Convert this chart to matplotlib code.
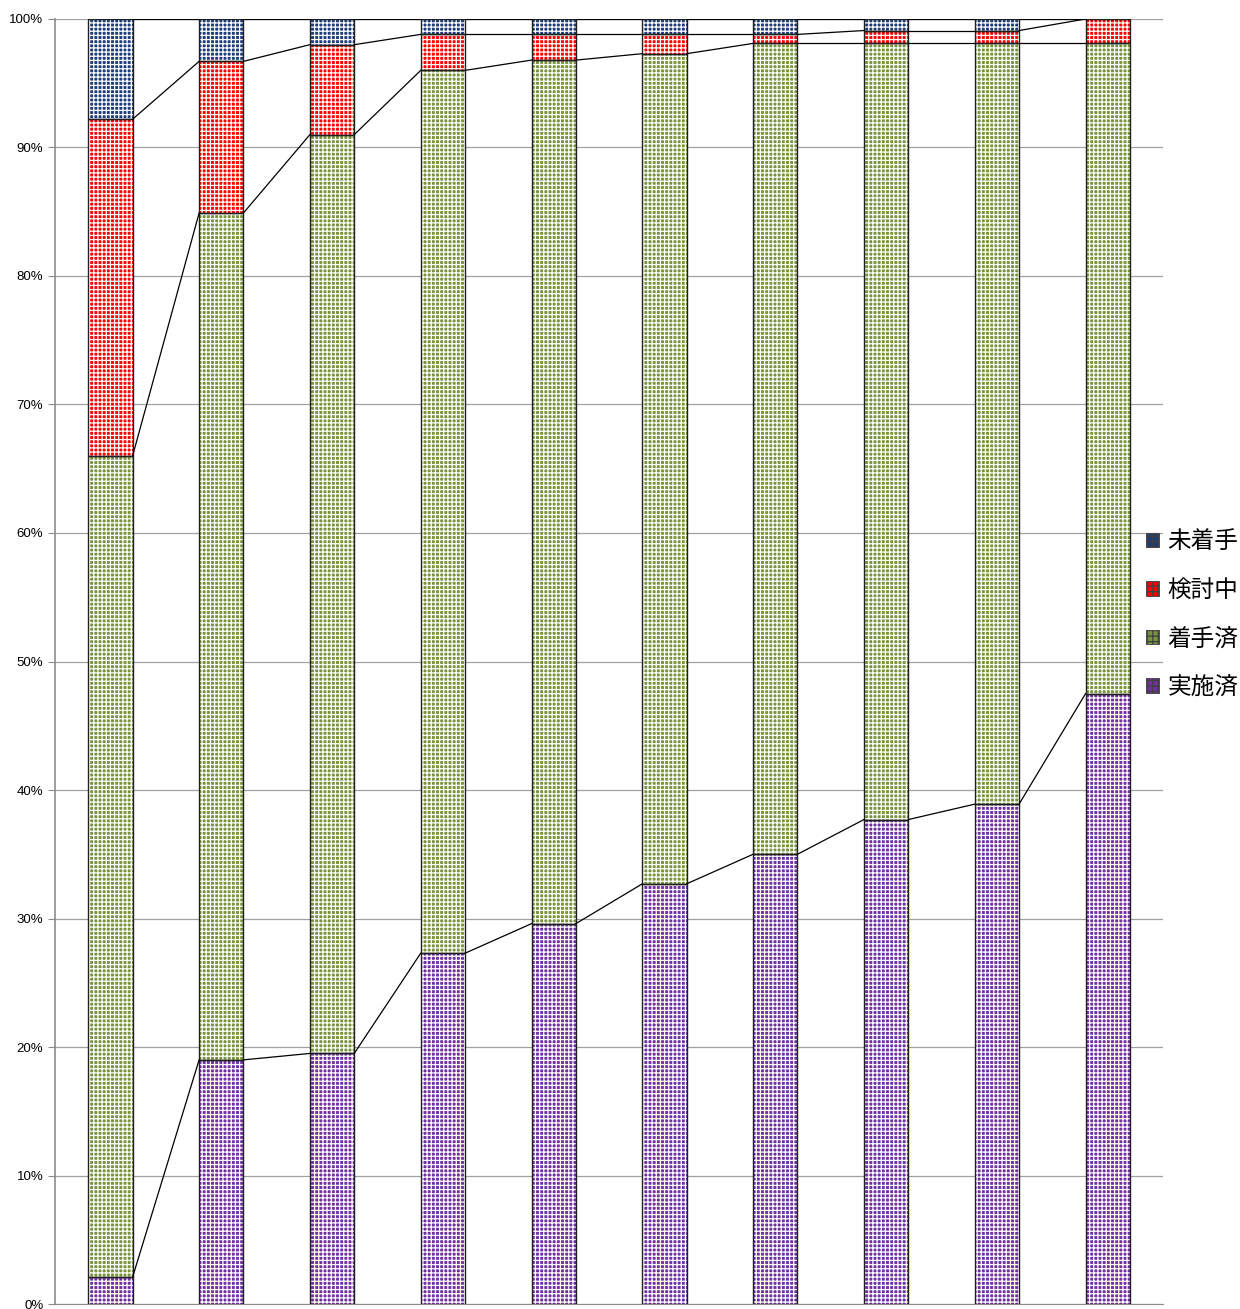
import matplotlib
matplotlib.use('Agg')
import matplotlib.pyplot as plt
import numpy as np
from matplotlib.patches import Patch
from matplotlib.ticker import PercentFormatter

plt.rcParams['font.family'] = ['Noto Sans CJK JP', 'DejaVu Sans']
plt.rcParams['hatch.linewidth'] = 0.9
plt.rcParams['hatch.color'] = 'white'

# データ（%）
series_names = ['実施済', '着手済', '検討中', '未着手']
jisshi = [2.1, 19.0, 19.5, 27.3, 29.6, 32.7, 35.0, 37.7, 38.9, 47.5]
chakushu = [63.9, 65.9, 71.5, 68.7, 67.2, 64.6, 63.1, 60.4, 59.2, 50.6]
kentou = [26.2, 11.8, 7.0, 2.8, 2.0, 1.5, 0.7, 1.0, 1.0, 1.9]
michaku = [7.8, 3.3, 2.0, 1.2, 1.2, 1.2, 1.2, 0.9, 0.9, 0.0]
colors = ['#7030a0', '#77933c', '#ff0000', '#1f3c7a']

values = [jisshi, chakushu, kentou, michaku]
x = np.arange(len(jisshi))
w = 0.4

fig = plt.figure(figsize=(12.4, 13.09), dpi=100)
ax = fig.add_axes([0.0444, 0.0038, 0.8936, 0.9817])

bottom = np.zeros(len(x))
tops = []
for vals, c in zip(values, colors):
    vals = np.array(vals)
    # 塗り + 白い網目パターン
    ax.bar(x, vals, w, bottom=bottom, color=c, edgecolor='white',
           linewidth=0, hatch='++++', zorder=2)
    # 枠線
    ax.bar(x, vals, w, bottom=bottom, fill=False, edgecolor='#202020',
           linewidth=1.0, zorder=3)
    bottom = bottom + vals
    tops.append(bottom.copy())

# 区分線
for t in tops:
    for i in range(len(x) - 1):
        ax.plot([x[i] + w / 2, x[i + 1] - w / 2], [t[i], t[i + 1]],
                color='black', linewidth=0.9, zorder=3)

ax.set_xlim(-0.5, len(x) - 0.5)
ax.set_ylim(0, 100)
ax.set_yticks(np.arange(0, 101, 10))
ax.yaxis.set_major_formatter(PercentFormatter(decimals=0))
ax.set_xticks([])
ax.grid(axis='y', color='#a0a0a0', linewidth=0.9, zorder=0)
for s in ['top', 'right']:
    ax.spines[s].set_visible(False)
ax.spines['left'].set_color('#8c8c8c')
ax.spines['bottom'].set_color('#8c8c8c')
ax.spines['left'].set_linewidth(1.2)
ax.tick_params(axis='y', length=5, color='#8c8c8c', labelsize=9.5,
               labelfontfamily='Liberation Sans')

handles = [Patch(facecolor=c, edgecolor='white', hatch='+++', linewidth=0)
           for c in colors[::-1]]
leg = fig.legend(handles, series_names[::-1], loc='center left',
                 bbox_to_anchor=(0.9245, 0.5305), frameon=False,
                 fontsize=17.0, handlelength=0.55, handleheight=0.55,
                 handletextpad=0.35, labelspacing=1.08, borderpad=0,
                 borderaxespad=0)
for p in leg.get_patches():
    p.set_edgecolor('#404040')
    p.set_linewidth(0.6)

fig.savefig('out.png', dpi=100)
